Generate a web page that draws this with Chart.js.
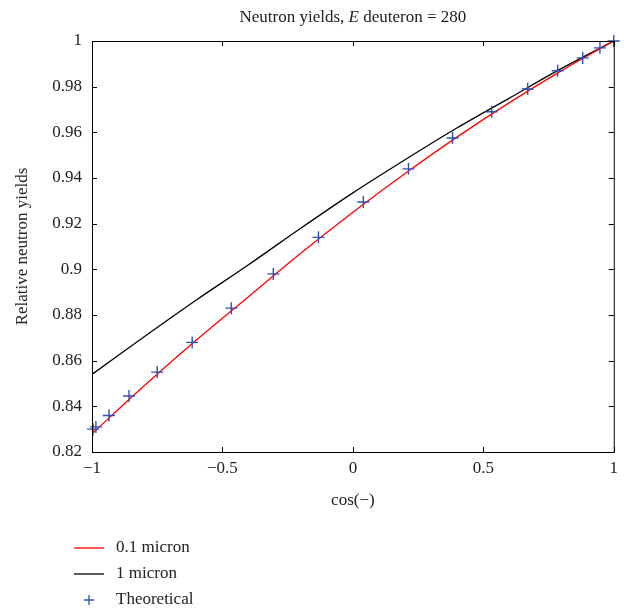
<!DOCTYPE html>
<html>
<head>
<meta charset="utf-8">
<script src="https://cdn.jsdelivr.net/npm/chart.js@4.4.1/dist/chart.umd.min.js"></script>
<style>
  html, body { margin: 0; padding: 0; background: #fff; }
  #wrap { width: 624px; height: 611px; }
</style>
</head>
<body>
<div id="wrap"><canvas id="chart" width="624" height="611"></canvas></div>
<script>
// values
var redX = [-1, -0.8, -0.6, -0.4, -0.2, 0, 0.2, 0.4, 0.6, 0.8, 1];
var redY = [0.828, 0.849, 0.869, 0.888, 0.907, 0.925, 0.942, 0.958, 0.973, 0.987, 1.0];

var blackX = [-1, -0.8, -0.6, -0.4, -0.2, 0, 0.2, 0.4, 0.6, 0.8, 1];
var blackY = [0.854, 0.8705, 0.8866, 0.902, 0.918, 0.9335, 0.948, 0.962, 0.975, 0.988, 1.0];

var theoX = [-0.996, -0.985, -0.935, -0.858, -0.750, -0.616, -0.466, -0.305, -0.132, 0.040,
             0.213, 0.382, 0.532, 0.670, 0.785, 0.881, 0.947, 1.0];
var theoY = [0.830, 0.831, 0.836, 0.8445, 0.855, 0.868, 0.883, 0.898, 0.914, 0.9295,
             0.944, 0.9575, 0.969, 0.979, 0.987, 0.9926, 0.997, 1.0];

var xTicks = [-1, -0.5, 0, 0.5, 1];
var yTicks = [0.82, 0.84, 0.86, 0.88, 0.9, 0.92, 0.94, 0.96, 0.98, 1];

var FONT = '"Liberation Serif", "DejaVu Serif", serif';

function pairs(xs, ys) {
  return xs.map(function (x, i) { return { x: x, y: ys[i] }; });
}

function fmt(v) {
  var s = String(parseFloat(v.toFixed(2)));
  return s.replace('-', '\u2212');
}

// box, inward ticks, title with italic E, stacked legend
var framePlugin = {
  id: 'frame',
  afterDraw: function (chart) {
    var ctx = chart.ctx;
    var a = chart.chartArea;
    var xs = chart.scales.x, ys = chart.scales.y;
    var tl = 5;
    ctx.save();
    ctx.strokeStyle = '#000';
    ctx.lineWidth = 1;
    ctx.strokeRect(a.left + 0.5, a.top + 0.5, a.right - a.left, a.bottom - a.top);
    ctx.beginPath();
    xTicks.forEach(function (t) {
      var px = Math.round(xs.getPixelForValue(t)) + 0.5;
      ctx.moveTo(px, a.bottom); ctx.lineTo(px, a.bottom - tl);
      ctx.moveTo(px, a.top); ctx.lineTo(px, a.top + tl);
    });
    yTicks.forEach(function (t) {
      var py = Math.round(ys.getPixelForValue(t)) + 0.5;
      ctx.moveTo(a.left, py); ctx.lineTo(a.left + tl, py);
      ctx.moveTo(a.right, py); ctx.lineTo(a.right - tl, py);
    });
    ctx.stroke();

    // title
    var parts = [
      { t: 'Neutron yields, ', f: '17px ' + FONT },
      { t: 'E', f: 'italic 17px ' + FONT },
      { t: ' deuteron = 280', f: '17px ' + FONT }
    ];
    var total = 0;
    parts.forEach(function (p) { ctx.font = p.f; p.w = ctx.measureText(p.t).width; total += p.w; });
    var cx = (a.left + a.right) / 2 - total / 2;
    ctx.fillStyle = '#222';
    ctx.textBaseline = 'middle';
    ctx.textAlign = 'left';
    parts.forEach(function (p) { ctx.font = p.f; ctx.fillText(p.t, cx, 18); cx += p.w; });

    // legend
    var rows = [548, 574, 600];
    chart.data.datasets.forEach(function (ds, i) {
      var y = rows[i];
      if (ds.showLine) {
        ctx.strokeStyle = ds.borderColor;
        ctx.lineWidth = 1.3;
        ctx.beginPath();
        ctx.moveTo(74, y); ctx.lineTo(104, y);
        ctx.stroke();
      } else {
        ctx.strokeStyle = ds.borderColor;
        ctx.lineWidth = 1.3;
        ctx.beginPath();
        ctx.moveTo(89 - 5, y); ctx.lineTo(89 + 5, y);
        ctx.moveTo(89, y - 5); ctx.lineTo(89, y + 5);
        ctx.stroke();
      }
      ctx.fillStyle = '#222';
      ctx.font = '17px ' + FONT;
      ctx.fillText(ds.label, 116, y);
    });
    ctx.restore();
  }
};

new Chart(document.getElementById('chart'), {
  type: 'scatter',
  data: {
    datasets: [
      {
        label: '0.1 micron',
        data: pairs(redX, redY),
        showLine: true,
        borderColor: '#ff0000',
        borderWidth: 1.3,
        pointRadius: 0,
        tension: 0.3,
        order: 2
      },
      {
        label: '1 micron',
        data: pairs(blackX, blackY),
        showLine: true,
        borderColor: '#000000',
        borderWidth: 1.3,
        pointRadius: 0,
        tension: 0.3,
        order: 3
      },
      {
        label: 'Theoretical',
        data: pairs(theoX, theoY),
        showLine: false,
        borderColor: '#2f4fb5',
        backgroundColor: '#2f4fb5',
        pointStyle: 'cross',
        pointRadius: 6,
        pointBorderWidth: 1.4,
        clip: false,
        order: 1
      }
    ]
  },
  options: {
    responsive: false,
    animation: false,
    layout: { padding: { top: 41, right: 10, bottom: 96, left: 0 } },
    plugins: {
      legend: { display: false },
      title: { display: false },
      tooltip: { enabled: false }
    },
    scales: {
      x: {
        type: 'linear',
        min: -1, max: 1,
        afterBuildTicks: function (s) { s.ticks = xTicks.map(function (v) { return { value: v }; }); },
        afterFit: function (s) { s.height = 63; },
        grid: { display: false, drawTicks: false },
        border: { display: false },
        ticks: {
          padding: 6,
          color: '#222',
          font: { family: FONT, size: 17 },
          maxRotation: 0,
          callback: function (v) { return fmt(v); }
        },
        title: {
          display: true,
          text: 'cos(\u2212)',
          color: '#222',
          font: { family: FONT, size: 17 },
          padding: { top: 4, bottom: 4 }
        }
      },
      y: {
        type: 'linear',
        min: 0.82, max: 1,
        afterBuildTicks: function (s) { s.ticks = yTicks.map(function (v) { return { value: v }; }); },
        afterFit: function (s) { s.width = 92; },
        grid: { display: false, drawTicks: false },
        border: { display: false },
        ticks: {
          padding: 10,
          color: '#222',
          font: { family: FONT, size: 17 },
          callback: function (v) { return fmt(v); }
        },
        title: {
          display: true,
          text: 'Relative neutron yields',
          color: '#222',
          font: { family: FONT, size: 17 },
          padding: { top: 12, bottom: 4 }
        }
      }
    }
  },
  plugins: [framePlugin]
});
</script>
</body>
</html>
